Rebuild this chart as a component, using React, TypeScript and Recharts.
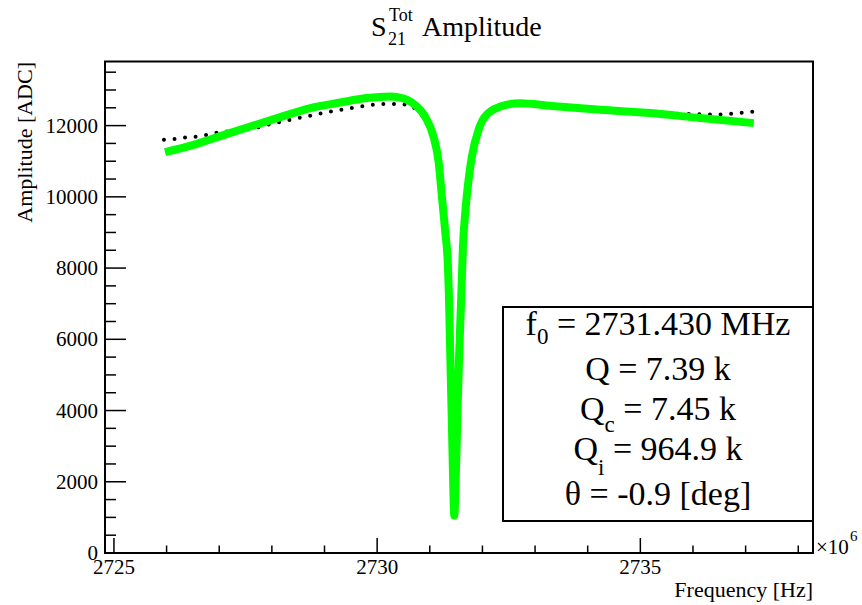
import { LineChart, Line, XAxis, YAxis } from 'recharts'

// fit curve (green)
const FIT_FREQ = [
    2725.97, 2726.51, 2727.02, 2727.59, 2728.16, 2728.73, 2729.3, 2729.8, 2730.25, 2730.4,
    2730.57, 2730.74, 2730.91, 2731.07, 2731.17, 2731.23, 2731.29, 2731.345, 2731.364, 2731.39,
    2731.42, 2731.448, 2731.465, 2731.487, 2731.52, 2731.557, 2731.598, 2731.63, 2731.674, 2731.737,
    2731.8, 2731.927, 2731.997, 2732.117, 2732.26, 2732.45, 2732.72, 2733.29, 2734.24, 2735.19,
    2736.14, 2737.155,
]
const FIT_AMP = [
    11256, 11461, 11705, 11975, 12239, 12492, 12649, 12773, 12818, 12795,
    12725, 12556, 12256, 11694, 10955, 10009, 9073, 8042, 7200, 5514,
    3625, 1750, 1050, 1750, 3625, 5514, 7200, 8604, 9551, 10478,
    11132, 11882, 12135, 12360, 12486, 12584, 12627, 12556, 12444, 12351,
    12211, 12070,
]

// measured points (black dotted)
const DATA_FREQ = [
    2725.95, 2726.16, 2726.36, 2726.57, 2726.77, 2726.98, 2727.59, 2727.98, 2728.38, 2728.78,
    2729.17, 2729.57, 2729.98, 2730.17, 2730.38, 2730.57, 2730.76, 2730.93, 2731.07, 2731.17,
    2731.23, 2731.29, 2731.34, 2731.37, 2731.4, 2731.43, 2731.45, 2731.465, 2731.485, 2731.51,
    2731.55, 2731.6, 2731.64, 2731.68, 2731.74, 2731.81, 2731.93, 2732.12, 2732.4, 2732.8,
    2733.3, 2734.2, 2735.0, 2735.5, 2735.98, 2736.19, 2736.38, 2736.58, 2736.79, 2737.0, 2737.19,
]
const DATA_AMP = [
    11601, 11629, 11666, 11694, 11742, 11806, 11902, 12042, 12171, 12295,
    12407, 12509, 12593, 12612, 12604, 12584, 12424, 12100, 11550, 10800,
    9900, 8950, 7900, 7000, 5400, 3500, 1800, 990, 1800, 3500,
    5400, 7100, 8600, 9600, 10500, 11150, 11880, 12350, 12570, 12600,
    12560, 12460, 12390, 12350, 12323, 12314, 12314, 12314, 12340, 12368, 12396,
]

const X_TICKS = [2725, 2726, 2727, 2728, 2729, 2730, 2731, 2732, 2733, 2734, 2735, 2736, 2737, 2738]
const Y_TICKS = [
    0, 500, 1000, 1500, 2000, 2500, 3000, 3500, 4000, 4500, 5000, 5500, 6000, 6500,
    7000, 7500, 8000, 8500, 9000, 9500, 10000, 10500, 11000, 11500, 12000, 12500, 13000, 13500,
]

const STATS = [
    { main: 'f', sub: '0', drop: 9, rest: ' = 2731.430 MHz' },
    { main: 'Q = 7.39 k', sub: '', drop: 0, rest: '' },
    { main: 'Q', sub: 'c', drop: 12, rest: ' = 7.45 k' },
    { main: 'Q', sub: 'i', drop: 15, rest: ' = 964.9 k' },
    { main: 'θ = -0.9 [deg]', sub: '', drop: 0, rest: '' },
]

const fit = FIT_FREQ.map((f, i) => ({ f, amp: FIT_AMP[i] }))
const meas = DATA_FREQ.map((f, i) => ({ f, amp: DATA_AMP[i] }))

const SERIF = { fontFamily: 'Liberation Serif, DejaVu Serif, serif' }

function XTick({ x, y, payload }: any) {
    const major = payload.value % 5 === 0
    return (
        <g>
            <line x1={x} x2={x} y1={y} y2={y - (major ? 15 : 7.5)} stroke="#000" strokeWidth={1.5} />
            {major && (
                <text x={x} y={y + 21} textAnchor="middle" style={SERIF} fontSize={21} fill="#000">
                    {payload.value}
                </text>
            )}
        </g>
    )
}

function YTick({ x, y, payload }: any) {
    const major = payload.value % 2000 === 0
    return (
        <g>
            <line x1={x} x2={x + (major ? 21 : 11)} y1={y} y2={y} stroke="#000" strokeWidth={1.5} />
            {major && (
                <text x={x - 7} y={y + 7} textAnchor="end" style={SERIF} fontSize={21} fill="#000">
                    {payload.value}
                </text>
            )}
        </g>
    )
}

export default function App() {
    return (
        <div style={{ position: 'absolute', left: 0, top: 0, width: 862, height: 605, background: '#fff' }}>
            <LineChart width={862} height={605} margin={{ top: 61.5, right: 49, bottom: 22, left: 45 }}>
                <XAxis
                    type="number" dataKey="f" domain={[2724.83, 2738.28]} ticks={X_TICKS} interval={0}
                    height={30} tickSize={0} tickMargin={0} tickLine={false} axisLine={false}
                    allowDataOverflow tick={<XTick />}
                />
                <YAxis
                    type="number" dataKey="amp" domain={[0, 13800]} ticks={Y_TICKS} interval={0}
                    width={60} tickSize={0} tickMargin={0} tickLine={false} axisLine={false}
                    allowDataOverflow tick={<YTick />}
                />
                <Line
                    data={meas} dataKey="amp" type="monotone" stroke="#000" strokeWidth={4}
                    strokeDasharray="0 10.6" strokeLinecap="round" dot={false} isAnimationActive={false}
                />
                <Line
                    data={fit} dataKey="amp" type="monotone" stroke="#00ff00" strokeWidth={8}
                    strokeLinejoin="round" dot={false} isAnimationActive={false}
                />
            </LineChart>
            <svg width={862} height={605} style={{ position: 'absolute', left: 0, top: 0, pointerEvents: 'none', ...SERIF }}
                fill="#000">
                <rect x={105} y={61.5} width={708} height={491.5} fill="none" stroke="#000" strokeWidth={2} />
                <text x={371} y={36} fontSize={28}>S</text>
                <text x={389} y={21} fontSize={18}>Tot</text>
                <text x={388} y={45} fontSize={18}>21</text>
                <text x={422} y={36} fontSize={28}>Amplitude</text>
                <text transform="translate(32,62) rotate(-90)" textAnchor="end" fontSize={22}>Amplitude [ADC]</text>
                <text x={813} y={597} textAnchor="end" fontSize={22}>Frequency [Hz]</text>
                <text x={816} y={554} fontSize={21}>×10</text>
                <text x={850} y={541} fontSize={15}>6</text>
                <rect x={503} y={307} width={310} height={214} fill="#fff" stroke="#000" strokeWidth={2} />
                {STATS.map((s, i) => (
                    <text key={i} x={658} y={[335, 380, 420, 460, 505][i]} textAnchor="middle" fontSize={34}>
                        {s.main}
                        {s.sub && <tspan dy={s.drop} fontSize={23}>{s.sub}</tspan>}
                        {s.sub && <tspan dy={-s.drop}>{s.rest}</tspan>}
                    </text>
                ))}
            </svg>
        </div>
    )
}
